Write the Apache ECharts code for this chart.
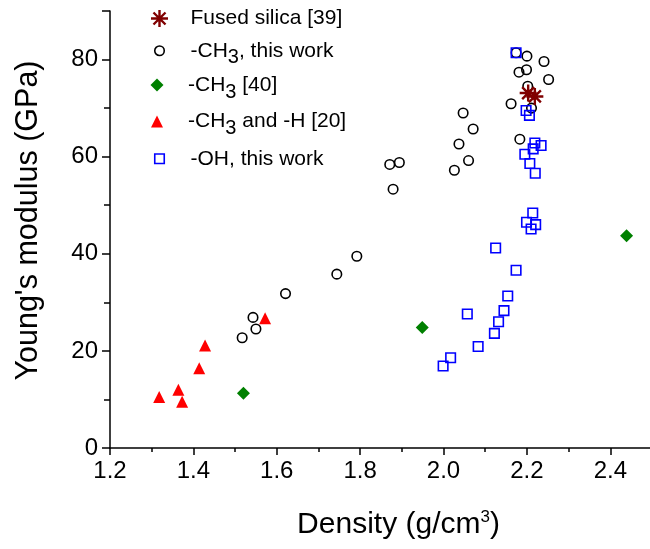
<!DOCTYPE html>
<html><head><meta charset="utf-8">
<script src="https://cdn.jsdelivr.net/npm/echarts@6/dist/echarts.min.js"></script>
<style>html,body{margin:0;padding:0;background:#fff}#c{width:650px;height:549px}</style>
</head><body><div id="c"></div>
<script>
// ---- data ----
const xTickLabels = ['1.2', '1.4', '1.6', '1.8', '2.0', '2.2', '2.4'];
const yTickLabels = ['0', '20', '40', '60', '80'];
const seriesNames = ['Fused silica [39]', '-CH3, this work', '-CH3 [40]', '-CH3 and -H [20]', '-OH, this work'];

const fusedSilica = [[2.203, 73.1], [2.219, 72.4]];
const ch3ThisWork = [
  [1.517, 22.7], [1.543, 26.9], [1.550, 24.5], [1.621, 31.8], [1.744, 35.8], [1.792, 39.5],
  [1.871, 58.4], [1.894, 58.8], [1.879, 53.3], [2.026, 57.2], [2.037, 62.6], [2.047, 69.0],
  [2.071, 65.7], [2.060, 59.2], [2.162, 70.9], [2.183, 63.6], [2.200, 80.7], [2.241, 79.6],
  [2.181, 77.4], [2.199, 77.9], [2.252, 75.9], [2.202, 74.5], [2.211, 70.0], [2.174, 81.4]
];
const ch3Ref40 = [[1.520, 11.3], [1.949, 24.8], [2.439, 43.7]];
const ch3HRef20 = [[1.318, 10.5], [1.364, 12.0], [1.373, 9.5], [1.414, 16.4], [1.428, 21.1], [1.572, 26.7]];
const ohThisWork = [
  [2.174, 81.4], [2.198, 69.5], [2.206, 68.5], [2.219, 62.8], [2.234, 62.3], [2.215, 61.6],
  [2.195, 60.5], [2.207, 58.6], [2.220, 56.6], [2.214, 48.4], [2.199, 46.5], [2.221, 46.0],
  [2.210, 45.1], [2.125, 41.2], [2.174, 36.6], [2.154, 31.3], [2.145, 28.3], [2.132, 26.0],
  [2.122, 23.6], [2.057, 27.6], [2.083, 20.9], [2.017, 18.6], [1.999, 16.9]
];

// ---- styles ----
const FONT = '"Liberation Sans", Arial, sans-serif';
const starPath = 'path://M0,-10L0,10M-10,0L10,0M-7.07,-7.07L7.07,7.07M-7.07,7.07L7.07,-7.07';
const styles = [
  { symbol: starPath, size: 17, item: { color: 'none', borderColor: '#800000', borderWidth: 2.4, opacity: 1 }, row: 16 },
  { symbol: 'circle', size: 9.5, item: { color: 'none', borderColor: '#000000', borderWidth: 1.6, opacity: 1 }, row: 45 },
  { symbol: 'diamond', size: 13, item: { color: '#008000', borderWidth: 0, opacity: 1 }, row: 81 },
  { symbol: 'triangle', size: 12, item: { color: '#ff0000', borderWidth: 0, opacity: 1 }, row: 117 },
  { symbol: 'rect', size: 9.5, item: { color: 'none', borderColor: '#0000ff', borderWidth: 1.6, opacity: 1 }, row: 153 }
];
const datasets = [fusedSilica, ch3ThisWork, ch3Ref40, ch3HRef20, ohThisWork];
const drawOrder = [1, 2, 3, 4, 0];

const series = drawOrder.map(i => ({
  name: seriesNames[i],
  type: 'scatter',
  data: datasets[i],
  symbol: styles[i].symbol,
  symbolSize: styles[i].size,
  itemStyle: styles[i].item,
  emphasis: { disabled: true },
  z: 2 + drawOrder.indexOf(i)
}));

const ICON_X = 157, TEXT_X = 188;
const legends = seriesNames.map((n, i) => {
  const s = styles[i].size;
  return {
    data: [{ name: n, icon: styles[i].symbol, itemStyle: styles[i].item }],
    left: ICON_X - s / 2,
    top: styles[i].row - s / 2,
    padding: 0,
    itemWidth: s,
    itemHeight: s,
    selectedMode: false,
    formatter: name => name.replace('CH3', 'CH{sub|3}'),
    textStyle: {
      fontFamily: FONT, fontSize: 21, color: '#000',
      padding: [0, 0, 0, TEXT_X - (ICON_X + s / 2 + 5)],
      rich: { sub: { fontFamily: FONT, fontSize: 20, color: '#000', padding: [14, 0, 0, 0] } }
    }
  };
});

const chart = echarts.init(document.getElementById('c'), null, { renderer: 'canvas' });
chart.setOption({
  animation: false,
  backgroundColor: '#ffffff',
  grid: { left: 110, top: 11, width: 542, height: 437, outerBoundsMode: 'none', containLabel: false },
  legend: legends,
  xAxis: {
    type: 'value', min: 1.2, max: 2.5, interval: 0.2,
    name: 'Density (g/cm{sup|3})', nameLocation: 'middle', nameGap: 61,
    nameTextStyle: {
      fontFamily: FONT, fontSize: 30, color: '#000', padding: [0, 0, 0, 35],
      rich: { sup: { fontFamily: FONT, fontSize: 17, color: '#000', padding: [0, 0, 14, 0] } }
    },
    axisLine: { show: true, onZero: false, lineStyle: { color: '#000', width: 1.5 } },
    axisTick: { show: true, inside: false, length: 7, lineStyle: { color: '#000', width: 1.5 } },
    minorTick: { show: true, splitNumber: 2, length: 4, lineStyle: { color: '#000', width: 1.5 } },
    splitLine: { show: false },
    axisLabel: {
      fontFamily: FONT, fontSize: 24, color: '#000', margin: 11,
      formatter: v => { const s = v.toFixed(1); return xTickLabels.includes(s) ? s : ''; }
    }
  },
  yAxis: {
    type: 'value', min: 0, max: 90, interval: 20,
    name: "Young's modulus (GPa)", nameLocation: 'middle', nameGap: 66,
    nameTextStyle: { fontFamily: FONT, fontSize: 30.5, color: '#000', padding: [0, 0, 0, 18] },
    axisLine: { show: true, onZero: false, lineStyle: { color: '#000', width: 1.5 } },
    axisTick: { show: true, inside: false, length: 8, lineStyle: { color: '#000', width: 1.5 } },
    minorTick: { show: true, splitNumber: 2, length: 6, lineStyle: { color: '#000', width: 1.5 } },
    splitLine: { show: false },
    axisLabel: {
      fontFamily: FONT, fontSize: 24, color: '#000', margin: 12,
      formatter: v => { const s = String(Math.round(v)); return yTickLabels.includes(s) ? s : ''; }
    }
  },
  series: series
});
</script>
</body></html>
